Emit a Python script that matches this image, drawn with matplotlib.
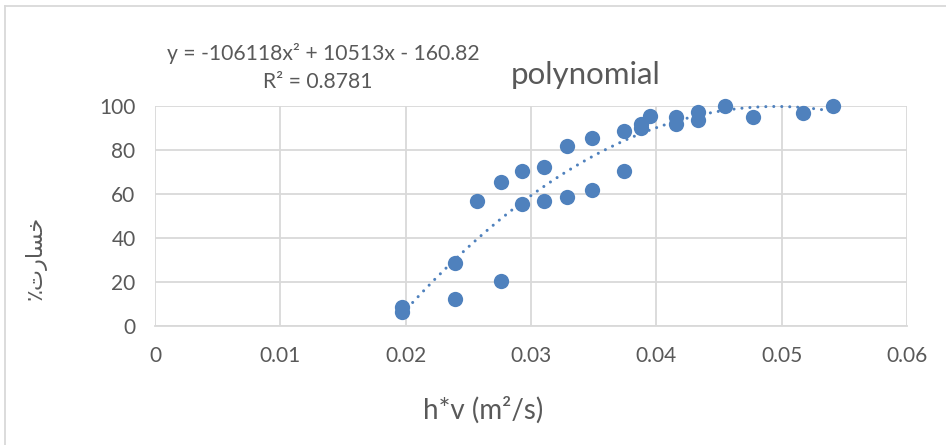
import matplotlib.pyplot as plt
from matplotlib.lines import Line2D
import numpy as np

# measured points: h*v (m2/s) against damage percent
hv = [0.0197, 0.0197, 0.0239, 0.0239, 0.0257, 0.0276, 0.0276,
      0.0293, 0.0293, 0.0310, 0.0310, 0.0329, 0.0329, 0.0349, 0.0349,
      0.0374, 0.0374, 0.0388, 0.0388, 0.0395, 0.0416, 0.0416,
      0.0433, 0.0433, 0.0455, 0.0477, 0.0517, 0.0541]
damage = [8.5, 6.3, 28.3, 11.9, 56.7, 20.1, 65.1,
          70.2, 55.1, 71.9, 56.7, 81.7, 58.5, 85.1, 61.6,
          88.5, 70.1, 91.5, 89.6, 95.1, 94.9, 91.5,
          96.9, 93.3, 99.9, 94.9, 96.7, 99.9]

# second order trendline as given in the label
poly_coef = [-106118, 10513, -160.82]
r_squared = 0.8781

x_ticks = [0, 0.01, 0.02, 0.03, 0.04, 0.05, 0.06]
x_tick_labels = ['0', '0.01', '0.02', '0.03', '0.04', '0.05', '0.06']
y_ticks = [0, 20, 40, 60, 80, 100]

blue = '#4F81BD'
gray_txt = '#595959'
grid_col = '#D9D9D9'

plt.rcParams['font.family'] = ['Lato', 'DejaVu Sans']

fig = plt.figure(figsize=(9.46, 4.45), dpi=100)
ax = fig.add_axes([155/946, 1-325.5/445, (907-155)/946, (325.5-105.5)/445])

# trendline over the data range
xs = np.linspace(min(hv), max(hv), 200)
ax.plot(xs, np.polyval(poly_coef, xs), color=blue, lw=2.2,
        linestyle=(0, (0.01, 2.6)), dash_capstyle='round', zorder=2, clip_on=False)
ax.plot(hv, damage, 'o', color=blue, markersize=11, markeredgewidth=0,
        zorder=3, clip_on=False)

ax.set_xlim(0, 0.06)
ax.set_ylim(0, 100)
ax.set_xticks(x_ticks)
ax.set_xticklabels(x_tick_labels)
ax.set_yticks(y_ticks)
ax.tick_params(length=0, labelsize=15, colors=gray_txt)
ax.tick_params(axis='y', pad=14)
ax.tick_params(axis='x', pad=15)
ax.grid(True, color=grid_col, lw=1.3)
ax.set_axisbelow(True)
for s in ['top', 'right', 'left']:
    ax.spines[s].set_visible(False)
ax.spines['bottom'].set_color(grid_col)
ax.spines['bottom'].set_linewidth(1.3)

fig.text(586/946, 1-75/445, 'polynomial', ha='center', va='center',
         fontsize=22.5, color=gray_txt)

eq = f'y = {poly_coef[0]}x\u00b2 + {poly_coef[1]}x - {abs(poly_coef[2])}'
fig.text(323/946, 1-54/445, eq, ha='center', va='center', fontsize=15.2, color=gray_txt)
fig.text(318/946, 1-82/445, f'R\u00b2 = {r_squared}', ha='center', va='center',
         fontsize=15.2, color=gray_txt)

fig.text(483/946, 1-410/445, 'h*v (m\u00b2/s)', ha='center', va='center',
         fontsize=20, color=gray_txt)

# y label (Arabic glyphs in presentation forms, visual order)
fig.text(36/946, 1-258/445, '\u066A\uFE95\uFEAD\uFE8E\uFEB4\uFEA7', ha='center', va='center',
         rotation=90, fontsize=16, color=gray_txt, family=['DejaVu Sans'])

# chart area border
fig.add_artist(Line2D([5/946, 5/946], [0, 1-5.5/445], transform=fig.transFigure,
                      color=grid_col, lw=1.3))
fig.add_artist(Line2D([5/946, 1], [1-5.5/445, 1-5.5/445], transform=fig.transFigure,
                      color=grid_col, lw=1.3))

fig.savefig('out.png', dpi=100)
